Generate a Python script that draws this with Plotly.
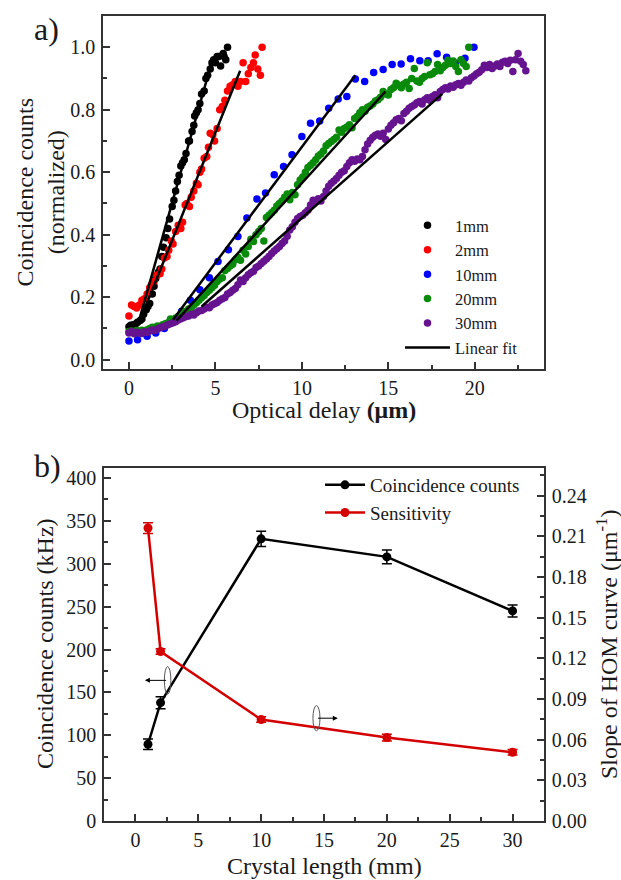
import plotly.graph_objects as go

# ---------------- Panel a data ----------------
x_1mm = [0.0,0.1,0.25,0.4,0.5,0.65,0.75,0.85,1.0,1.1,1.2,1.35,1.45,1.55,1.7,1.8,1.9,2.0,2.15,2.25,2.35,2.5,2.6,2.7,2.8,2.9,3.0,3.1,3.2,3.3,3.45,3.5,3.65,3.75,3.8,3.9,4.0,4.1,4.2,4.35,4.45,4.55,4.7,4.8,4.9,5.0,5.1,5.2,5.3,5.45,5.5,5.6,5.7]
y_1mm = [0.105,0.11,0.112,0.115,0.12,0.125,0.13,0.145,0.16,0.17,0.18,0.21,0.235,0.26,0.28,0.29,0.33,0.36,0.39,0.42,0.45,0.49,0.51,0.54,0.57,0.59,0.62,0.63,0.64,0.66,0.70,0.70,0.73,0.75,0.78,0.79,0.80,0.82,0.85,0.86,0.90,0.91,0.93,0.95,0.96,0.95,0.97,0.97,0.94,0.98,0.97,0.96,1.0]

x_2mm = [0.0,0.15,0.3,0.45,0.6,0.75,0.9,1.05,1.2,1.3,1.45,1.6,1.8,1.9,2.05,2.2,2.3,2.45,2.55,2.7,2.85,3.0,3.1,3.25,3.35,3.5,3.6,3.75,3.9,4.0,4.1,4.2,4.35,4.5,4.6,4.7,4.85,4.95,5.1,5.25,5.4,5.55,5.7,5.85,6.0,6.15,6.3,6.45,6.6,6.75,6.9,7.05,7.2,7.3,7.45,7.6,7.7]
y_2mm = [0.14,0.175,0.17,0.165,0.175,0.19,0.195,0.21,0.23,0.24,0.25,0.27,0.275,0.29,0.325,0.33,0.35,0.38,0.37,0.41,0.43,0.42,0.44,0.495,0.50,0.49,0.52,0.54,0.565,0.56,0.60,0.61,0.645,0.65,0.68,0.725,0.72,0.70,0.74,0.80,0.81,0.83,0.86,0.875,0.88,0.89,0.875,0.89,0.95,0.89,0.915,0.935,0.95,0.975,0.93,0.91,1.0]

x_10mm = [0.0,0.5,1.05,1.55,2.05,2.55,3.05,3.55,4.1,4.65,5.15,5.75,6.3,6.82,7.4,7.9,8.4,8.94,9.43,10.0,10.5,11.03,11.55,12.1,12.6,13.09,13.63,14.15,14.7,15.22,15.74,16.28,16.82,17.3,17.82,18.37,18.89,19.43,19.95]
y_10mm = [0.06,0.064,0.075,0.085,0.10,0.125,0.155,0.19,0.224,0.262,0.314,0.352,0.394,0.453,0.514,0.533,0.592,0.618,0.656,0.714,0.757,0.764,0.805,0.834,0.842,0.898,0.89,0.919,0.929,0.945,0.946,0.963,0.957,0.957,0.979,0.968,0.949,0.965,1.0]

x_20mm = [0.00,0.15,0.30,0.45,0.60,0.75,0.90,1.05,1.20,1.35,
          1.50,1.65,1.80,1.95,2.10,2.25,2.40,2.55,2.70,2.85,
          3.00,3.15,3.30,3.45,3.60,3.75,3.90,4.05,4.20,4.35,
          4.50,4.65,4.80,4.95,5.10,5.25,5.40,5.55,5.70,5.85,
          6.00,6.15,6.30,6.45,6.60,6.75,6.90,7.05,7.20,7.35,
          7.50,7.65,7.80,7.95,8.10,8.25,8.40,8.55,8.70,8.85,
          9.00,9.15,9.30,9.45,9.60,9.75,9.90,10.05,10.20,10.35,
          10.50,10.65,10.80,10.95,11.10,11.25,11.40,11.55,11.70,11.85,
          12.00,12.15,12.30,12.45,12.60,12.75,12.90,13.05,13.20,13.35,
          13.50,13.65,13.80,13.95,14.10,14.25,14.40,14.55,14.70,14.85,
          15.00,15.15,15.30,15.45,15.60,15.75,15.90,16.05,16.20,16.35,
          16.50,16.65,16.80,16.95,17.10,17.25,17.40,17.55,17.70,17.85,
          18.00,18.15,18.30,18.45,18.60,18.75,18.90,19.05,19.20,19.35,
          19.50,19.65]
y_20mm = [0.090,0.092,0.088,0.093,0.091,0.094,0.090,0.096,0.100,0.104,
          0.103,0.108,0.106,0.112,0.115,0.118,0.130,0.126,0.133,0.138,
          0.145,0.150,0.155,0.162,0.166,0.175,0.182,0.190,0.198,0.205,
          0.215,0.222,0.230,0.238,0.250,0.258,0.262,0.285,0.292,0.300,
          0.305,0.320,0.328,0.318,0.350,0.338,0.362,0.385,0.378,0.400,
          0.410,0.420,0.380,0.455,0.462,0.470,0.478,0.492,0.500,0.508,
          0.520,0.530,0.512,0.535,0.528,0.560,0.575,0.585,0.600,0.615,
          0.622,0.630,0.640,0.652,0.658,0.668,0.685,0.692,0.698,0.705,
          0.712,0.735,0.728,0.740,0.745,0.752,0.742,0.772,0.778,0.790,
          0.800,0.795,0.808,0.812,0.818,0.828,0.832,0.840,0.858,0.850,
          0.847,0.865,0.870,0.885,0.878,0.870,0.882,0.888,0.868,0.900,
          0.932,0.892,0.888,0.900,0.906,0.950,0.912,0.915,0.922,0.945,
          0.925,0.935,0.942,0.958,0.948,0.956,0.938,0.922,0.960,0.948,
          0.938,1.000]

x_30mm = [0.00,0.15,0.30,0.45,0.60,0.75,0.90,1.05,1.20,1.35,1.50,
          1.65,1.80,1.95,2.10,2.25,2.40,2.55,2.70,2.85,3.00,
          3.15,3.30,3.45,3.60,3.75,3.90,4.05,4.20,4.35,4.50,
          4.65,4.80,4.95,5.10,5.25,5.40,5.55,5.70,5.85,6.00,
          6.15,6.30,6.45,6.60,6.75,6.90,7.05,7.20,7.35,7.50,
          7.65,7.80,7.95,8.10,8.25,8.40,8.55,8.70,8.85,9.00,
          9.15,9.30,9.45,9.60,9.75,9.90,10.05,10.20,10.35,10.50,
          10.65,10.80,10.95,11.10,11.25,11.40,11.55,11.70,11.85,12.00,
          12.15,12.30,12.45,12.60,12.75,12.90,13.05,13.20,13.35,13.50,
          13.65,13.80,13.95,14.10,14.25,14.40,14.55,14.70,14.85,15.00,
          15.15,15.30,15.45,15.60,15.75,15.90,16.05,16.20,16.35,16.50,
          16.65,16.80,16.95,17.10,17.25,17.40,17.55,17.70,17.85,18.00,
          18.15,18.30,18.45,18.60,18.75,18.90,19.05,19.20,19.35,19.50,
          19.65,19.80,19.95,20.10,20.25,20.40,20.55,20.70,20.85,21.00,
          21.15,21.30,21.45,21.60,21.75,21.90,22.05,22.20,22.35,22.50,
          22.65,22.80,22.95]
y_30mm = [0.085,0.090,0.083,0.088,0.086,0.084,0.089,0.087,0.092,0.095,0.093,
          0.098,0.102,0.105,0.108,0.112,0.115,0.118,0.121,0.127,0.131,
          0.134,0.138,0.140,0.145,0.143,0.150,0.156,0.157,0.162,0.168,
          0.166,0.175,0.179,0.183,0.190,0.195,0.199,0.210,0.215,0.222,
          0.228,0.240,0.255,0.250,0.262,0.272,0.278,0.283,0.295,0.300,
          0.308,0.315,0.322,0.330,0.340,0.348,0.355,0.362,0.372,0.380,
          0.395,0.415,0.425,0.440,0.452,0.458,0.462,0.470,0.478,0.495,
          0.510,0.505,0.515,0.508,0.522,0.540,0.555,0.565,0.572,0.580,
          0.590,0.600,0.605,0.618,0.630,0.640,0.635,0.642,0.640,0.650,
          0.672,0.690,0.702,0.712,0.718,0.722,0.715,0.725,0.705,0.738,
          0.750,0.758,0.768,0.772,0.765,0.788,0.795,0.805,0.810,0.815,
          0.822,0.826,0.818,0.832,0.838,0.830,0.842,0.848,0.838,0.858,
          0.865,0.870,0.866,0.876,0.872,0.880,0.884,0.878,0.888,0.895,
          0.892,0.902,0.908,0.915,0.920,0.928,0.942,0.935,0.945,0.932,
          0.940,0.946,0.938,0.952,0.955,0.948,0.958,0.922,0.960,0.980,
          0.955,0.945,0.925]

series_names = ["1mm", "2mm", "10mm", "20mm", "30mm"]
series_x = [x_1mm, x_2mm, x_10mm, x_20mm, x_30mm]
series_y = [y_1mm, y_2mm, y_10mm, y_20mm, y_30mm]
series_colors = ["#000000", "#ff0000", "#0000ff", "#0a8a0a", "#66138f"]

# linear fits: start/end of fitted range, slope, intercept
fit_x0 = [0.52, 0.62, 2.55, 2.75, 4.20]
fit_x1 = [4.80, 6.43, 13.09, 14.83, 18.12]
fit_slope = [0.197, 0.138, 0.0742, 0.0607, 0.0489]
fit_intercept = [0.0096, 0.0374, -0.0612, -0.0419, -0.0354]

# ---------------- Panel b data ----------------
crystal_length = [1, 2, 10, 20, 30]
coinc_counts = [89.5, 138, 329, 308, 245]
coinc_err = [6, 7, 9, 8, 7]
hom_slope = [0.216, 0.125, 0.0748, 0.0615, 0.0507]
hom_slope_err = [0.004, 0.002, 0.002, 0.0025, 0.002]

W, H = 621, 880
FONT = "Liberation Serif, Times New Roman, serif"
TXT = "#1a1a1a"
AX = "#333333"

def fx(p):
    return p / W

def fy(p):
    return 1 - p / H

fig = go.Figure()

for name, xs, ys, col in zip(series_names, series_x, series_y, series_colors):
    fig.add_trace(go.Scatter(
        x=xs, y=ys, mode="markers", name=name,
        marker=dict(color=col, size=7.5, line=dict(width=0)),
        xaxis="x", yaxis="y", legend="legend"))

fx_line, fy_line = [], []
for a, b, m, c in zip(fit_x0, fit_x1, fit_slope, fit_intercept):
    fx_line += [a, b, None]
    fy_line += [m * a + c, m * b + c, None]
fig.add_trace(go.Scatter(
    x=fx_line, y=fy_line, mode="lines", name="Linear fit",
    line=dict(color="black", width=2.5), xaxis="x", yaxis="y", legend="legend"))

fig.add_trace(go.Scatter(
    x=crystal_length, y=coinc_counts, mode="lines+markers", name="Coincidence counts",
    line=dict(color="black", width=2.5), marker=dict(color="black", size=9),
    error_y=dict(type="data", array=coinc_err, color="black", thickness=1.5, width=5),
    xaxis="x2", yaxis="y2", legend="legend2"))
fig.add_trace(go.Scatter(
    x=crystal_length, y=hom_slope, mode="lines+markers", name="Sensitivity",
    line=dict(color="#d40000", width=2.5), marker=dict(color="#d40000", size=9),
    error_y=dict(type="data", array=hom_slope_err, color="#d40000", thickness=1.5, width=5),
    xaxis="x2", yaxis="y3", legend="legend2"))

tickfont = dict(family=FONT, size=20, color=TXT)

def axis_common(**kw):
    d = dict(showgrid=False, zeroline=False, showline=True, linecolor=AX, linewidth=1.5,
             ticks="inside", ticklen=7, tickwidth=1.5, tickcolor=AX, tickfont=tickfont,
             automargin=False)
    d.update(kw)
    return d

minor_style = dict(ticks="inside", ticklen=4, tickwidth=1.5, tickcolor=AX)

fig.update_layout(
    width=W, height=H, margin=dict(l=0, r=0, t=0, b=0),
    paper_bgcolor="white", plot_bgcolor="white",
    font=dict(family=FONT, color=TXT),
    xaxis=axis_common(domain=[fx(103), fx(544)], anchor="y", range=[-1.5, 24],
                      tick0=0, dtick=5, mirror=True, ticklabelstandoff=0,
                      minor=dict(dtick=2.5, **minor_style)),
    yaxis=axis_common(domain=[fy(369), fy(16)], anchor="x", range=[-0.03, 1.10],
                      tick0=0, dtick=0.2, tickformat=".1f", mirror=True, ticklabelstandoff=2,
                      minor=dict(dtick=0.1, **minor_style)),
    xaxis2=axis_common(domain=[fx(104), fx(544)], anchor="y2", range=[-2.5, 32.5],
                       tick0=0, dtick=5, mirror=True, ticklabelstandoff=0,
                       minor=dict(dtick=2.5, **minor_style)),
    yaxis2=axis_common(domain=[fy(821), fy(467.7)], anchor="x2", range=[0, 412],
                       tick0=0, dtick=50, ticklabelstandoff=2,
                       minor=dict(dtick=25, **minor_style)),
    yaxis3=axis_common(domain=[fy(821), fy(467.7)], anchor="x2", overlaying="y2", side="right",
                       range=[0, 0.2605], tick0=0, dtick=0.03, tickformat=".2f", ticklabelstandoff=2,
                       minor=dict(dtick=0.015, **minor_style)),
    legend=dict(x=fx(400), y=fy(208), xanchor="left", yanchor="top",
                bgcolor="rgba(0,0,0,0)", font=dict(family=FONT, size=16.5, color=TXT),
                tracegroupgap=0, itemwidth=45),
    legend2=dict(x=fx(320), y=fy(466), xanchor="left", yanchor="top",
                 bgcolor="rgba(0,0,0,0)", font=dict(family=FONT, size=19, color=TXT),
                 tracegroupgap=0, itemwidth=40),
    showlegend=True,
)

title_font = dict(family=FONT, size=24, color=TXT)
annotations = [
    dict(text="a)", x=fx(46), y=fy(29), font=dict(family=FONT, size=32, color=TXT)),
    dict(text="b)", x=fx(47), y=fy(466), font=dict(family=FONT, size=32, color=TXT)),
    dict(text="Coincidence counts<br>(normalized)", x=fx(40), y=fy(192.5), textangle=-90, font=title_font),
    dict(text="Optical delay <b>(μm)</b>", x=fx(323.5), y=fy(410), font=title_font),
    dict(text="Crystal length (mm)", x=fx(324), y=fy(866), font=title_font),
    dict(text="Coincidence counts (kHz)", x=fx(45), y=fy(644), textangle=-90, font=title_font),
    dict(text="Slope of HOM curve (μm<sup>-1</sup>)", x=fx(607), y=fy(645), textangle=-90, font=title_font),
]
for a in annotations:
    a.update(xref="paper", yref="paper", showarrow=False, xanchor="center", yanchor="middle")

# ellipse + arrow markers indicating which axis each curve belongs to
annotations.append(dict(x=0.75, y=164, ax=2.56, ay=164, xref="x2", yref="y2", axref="x2", ayref="y2",
                        text="", showarrow=True, arrowhead=2, arrowsize=1, arrowwidth=1, arrowcolor="black"))
annotations.append(dict(x=16.1, y=0.0758, ax=14.4, ay=0.0758, xref="x2", yref="y3", axref="x2", ayref="y3",
                        text="", showarrow=True, arrowhead=2, arrowsize=1, arrowwidth=1, arrowcolor="black"))
fig.update_layout(annotations=annotations)

fig.add_shape(type="circle", xref="x2", yref="y2", x0=2.56 - 0.26, x1=2.56 + 0.26, y0=164 - 16, y1=164 + 16,
              line=dict(color="#555555", width=1))
fig.add_shape(type="circle", xref="x2", yref="y3", x0=14.4 - 0.28, x1=14.4 + 0.28, y0=0.0758 - 0.0093,
              y1=0.0758 + 0.0093, line=dict(color="#555555", width=1))

fig.write_html("out.html")
